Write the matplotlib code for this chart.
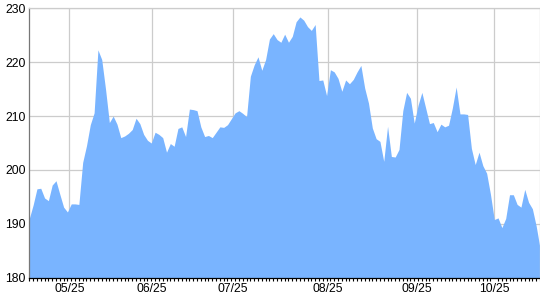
#!/usr/bin/env python3
# -*- coding: utf-8 -*-

import numpy as np
import matplotlib
matplotlib.use("Agg")
import matplotlib.pyplot as plt


# daily closing values (one per trading day)
values = [
    191.0, 193.5, 196.5, 196.6, 194.8, 194.3, 197.2, 198.0, 195.5, 193.1,
    192.2, 193.7, 193.7, 193.6, 201.4, 204.5, 208.4, 210.6, 222.3, 220.5,
    215.0, 208.8, 210.0, 208.5, 206.0, 206.3, 206.8, 207.5, 209.6, 208.6,
    206.6, 205.5, 205.0, 207.0, 206.6, 206.0, 203.3, 204.9, 204.4, 207.7,
    208.0, 206.2, 211.3, 211.2, 211.0, 208.0, 206.2, 206.4, 206.0, 207.0,
    208.0, 207.9, 208.4, 209.5, 210.6, 211.0, 210.5, 209.9, 217.4, 219.5,
    221.0, 218.5, 220.5, 224.3, 225.3, 224.2, 223.7, 225.2, 223.7, 224.8,
    227.5, 228.4, 227.8, 226.6, 225.9, 227.0, 216.6, 216.7, 213.8, 218.6,
    218.2, 217.0, 214.6, 216.7, 216.0, 216.8, 218.2, 219.4, 215.2, 212.4,
    207.8, 205.8, 205.3, 201.6, 208.1, 202.5, 202.4, 203.8, 211.0, 214.4,
    213.3, 208.7, 212.0, 214.4, 211.5, 208.6, 208.8, 207.1, 208.5, 208.0,
    208.3, 211.5, 215.4, 210.4, 210.4, 210.3, 204.0, 201.0, 203.3, 200.8,
    199.4, 195.5, 190.8, 191.1, 189.3, 191.0, 195.4, 195.4, 193.6, 193.1,
    196.4, 194.0, 192.8, 189.6, 185.5,
]

# month labels and where they sit on the trading-day axis
month_labels = ["05/25", "06/25", "07/25", "08/25", "09/25", "10/25"]
month_pos = [10.5, 32.1, 53.5, 78.3, 101.7, 122.0]

y_ticks = [180, 190, 200, 210, 220, 230]


def main():
    plt.rcParams["font.family"] = ["Liberation Sans", "DejaVu Sans"]

    fig = plt.figure(figsize=(5.4, 3.0), dpi=100)
    ax = fig.add_axes([0.0543, 0.0743, 0.9457, 0.898])

    x = np.arange(len(values))
    ax.fill_between(x, 180, values, color="#79b4ff", linewidth=0, zorder=2)

    ax.set_xlim(0, len(values) - 1)
    ax.set_ylim(180, 230)

    ax.set_yticks(y_ticks)
    ax.set_yticklabels([str(v) for v in y_ticks], fontsize=8.8)
    ax.tick_params(axis="y", length=0, pad=2.5)

    ax.set_xticks(month_pos)
    ax.set_xticklabels(month_labels, fontsize=8.8)
    ax.set_xticks(x, minor=True)
    ax.tick_params(axis="x", which="major", length=0, pad=4)
    ax.tick_params(axis="x", which="minor", length=2.3, width=0.8, color="black")

    ax.grid(True, color="#cccccc", linewidth=0.9, zorder=0)
    ax.set_axisbelow(True)

    for side in ["top", "right"]:
        ax.spines[side].set_color("#cccccc")
        ax.spines[side].set_linewidth(0.9)
    ax.spines["left"].set_color("#777777")
    ax.spines["left"].set_linewidth(0.9)
    ax.spines["bottom"].set_color("black")
    ax.spines["bottom"].set_linewidth(0.9)

    fig.savefig("out.png", dpi=100)
    plt.close(fig)


if __name__ == "__main__":
    main()
